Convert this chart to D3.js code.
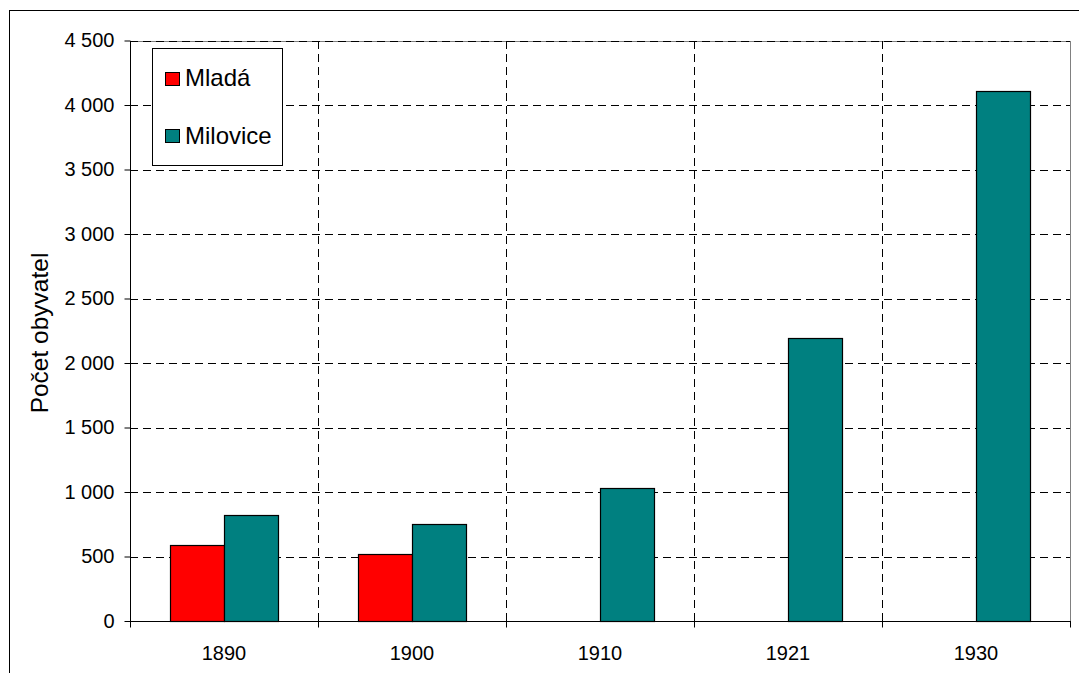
<!DOCTYPE html>
<html><head><meta charset="utf-8">
<script src="https://cdn.jsdelivr.net/npm/d3@7"></script>
<style>body{margin:0;background:#fff}svg{display:block}text{font-family:"Liberation Sans",Arial,sans-serif;fill:#000}</style>
</head><body>
<script>
const categories = ["1890","1900","1910","1921","1930"];
const seriesNames = ["Mladá","Milovice"];
const mlada = [589, 519, null, null, null];
const milovice = [819, 752, 1031, 2196, 4111];
const yTicks = [0,500,1000,1500,2000,2500,3000,3500,4000,4500];
const colors = ["#FF0000","#008080"];

const W=1079,H=673;
const svg=d3.select("body").append("svg").attr("width",W).attr("height",H);
svg.append("rect").attr("x",9.5).attr("y",10.5).attr("width",1200).attr("height",800).attr("fill","#fff").attr("stroke","#000").attr("stroke-width",1);

const L=130,R=1070,T=40.5,B=621;
const x=d3.scaleBand().domain(categories).range([L,R]).padding(0);
const y=d3.scaleLinear().domain([0,4500]).range([B,T]);
const groupW=x.bandwidth()*108/188;
const xi=d3.scaleBand().domain(seriesNames).range([0,groupW]).padding(0);

// plot border
svg.append("rect").attr("x",L+0.5).attr("y",Math.round(T)+0.5).attr("width",R-L).attr("height",B-Math.round(T)).attr("fill","none").attr("stroke","#808080");

// horizontal grid
svg.append("g").selectAll("line").data(yTicks.filter(d=>d>0)).join("line")
 .attr("x1",L).attr("x2",R).attr("y1",d=>Math.round(y(d))+0.5).attr("y2",d=>Math.round(y(d))+0.5)
 .attr("stroke","#000").attr("stroke-dasharray","8,5");
// vertical grid
svg.append("g").selectAll("line").data(categories.slice(1)).join("line")
 .attr("x1",d=>Math.round(x(d))+0.5).attr("x2",d=>Math.round(x(d))+0.5).attr("y1",Math.round(T)).attr("y2",B)
 .attr("stroke","#000").attr("stroke-dasharray","8,5");

// bars
const data=[];
categories.forEach((c,i)=>{
  [mlada[i],milovice[i]].forEach((v,j)=>{ if(v!=null) data.push({c,s:seriesNames[j],v,j}); });
});
svg.append("g").selectAll("rect").data(data).join("rect")
 .attr("x",d=>Math.round(x(d.c)+x.bandwidth()/2-groupW/2+xi(d.s))+0.5)
 .attr("width",Math.round(xi.bandwidth()))
 .attr("y",d=>Math.round(y(d.v))+0.5)
 .attr("height",d=>B-Math.round(y(d.v)))
 .attr("fill",d=>colors[d.j]).attr("stroke","#000").attr("stroke-width",1.2);

// axes
const yAxis=d3.axisLeft(y).tickValues(yTicks).tickSize(6).tickPadding(10)
  .tickFormat(d=>d3.format(",")(d).replace(/,/g," "));
const gy=svg.append("g").attr("transform",`translate(${L+0.5},0)`).call(yAxis);
gy.select(".domain").attr("stroke","#000").attr("d",`M0,${Math.round(T)}V${B}`);
gy.selectAll(".tick line").attr("stroke","#000");
gy.selectAll("text").attr("font-size",20).attr("font-family","Liberation Sans, Arial");

const gx=svg.append("g").attr("transform",`translate(0,${B+0.5})`);
gx.append("line").attr("x1",L).attr("x2",R+1).attr("stroke","#000");
gx.selectAll("line.t").data(categories.map(c=>x(c)).concat([R])).join("line").attr("class","t")
 .attr("x1",d=>Math.round(d)+0.5).attr("x2",d=>Math.round(d)+0.5).attr("y1",0).attr("y2",6).attr("stroke","#000");
gx.selectAll("text").data(categories).join("text")
 .attr("x",d=>x(d)+x.bandwidth()/2).attr("y",38).attr("text-anchor","middle").attr("font-size",20).text(d=>d);

// y title
svg.append("text").attr("transform","translate(48,333) rotate(-90)").attr("text-anchor","middle")
 .attr("font-size",24.5).text("Počet obyvatel");

// legend
const lg=svg.append("g");
lg.append("rect").attr("x",152.5).attr("y",48.5).attr("width",130).attr("height",117).attr("fill","#fff").attr("stroke","#000");
const ly=[72,129], lb=[86,144];
seriesNames.forEach((s,i)=>{
  lg.append("rect").attr("x",165.5).attr("y",ly[i]+0.5).attr("width",14).attr("height",13).attr("fill",colors[i]).attr("stroke","#000");
  lg.append("text").attr("x",185).attr("y",lb[i]).attr("font-size",24).text(s);
});
</script>
</body></html>
